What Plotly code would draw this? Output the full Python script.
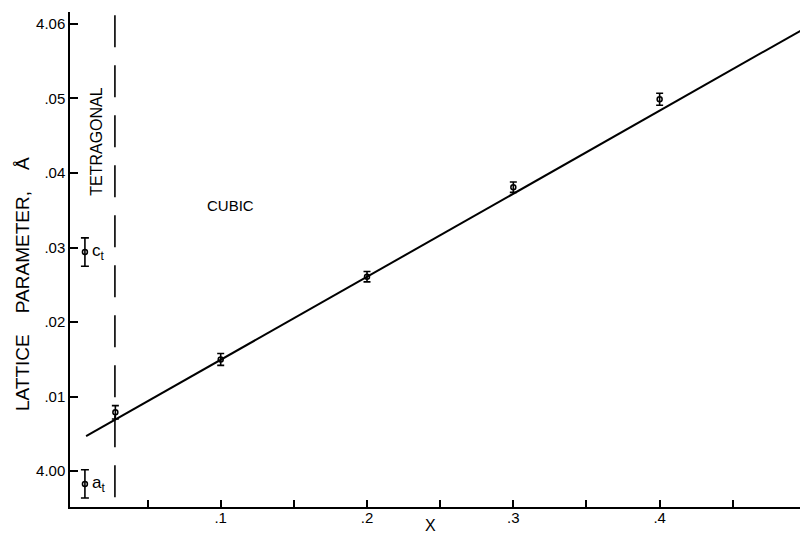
import plotly.graph_objects as go

# ---- data ----
x_cubic = [0.028, 0.1, 0.2, 0.3, 0.4, 0.5]
a_cubic = [4.0079, 4.0150, 4.0261, 4.0381, 4.0499, 4.0590]
err_cubic = [0.0009, 0.0008, 0.0007, 0.0007, 0.0008, 0.0008]

x_tetra = [0.0072, 0.0072]
a_tetra = [4.0294, 3.9983]
err_tetra = [0.0019, 0.0019]
tetra_labels = ["c<sub>t</sub>", "a<sub>t</sub>"]

fit_x = [0.008, 0.5]
fit_y = [4.0047, 4.0595]

boundary_x = 0.0277
boundary_y = [3.9965, 4.0616]

y_tickvals = [4.00, 4.01, 4.02, 4.03, 4.04, 4.05, 4.06]
y_ticktext = ["4.00", ".01", ".02", ".03", ".04", ".05", "4.06"]
x_tickvals = [0.1, 0.2, 0.3, 0.4, 0.5]
x_ticktext = [".1", ".2", ".3", ".4", ".5"]
x_minorvals = [0.05, 0.15, 0.25, 0.35, 0.45]

FONT = "Liberation Sans, Arial, sans-serif"

fig = go.Figure()

# fitted line
fig.add_trace(go.Scatter(x=fit_x, y=fit_y, mode="lines",
                         line=dict(color="black", width=2), showlegend=False))

# phase boundary
fig.add_trace(go.Scatter(x=[boundary_x, boundary_x], y=boundary_y, mode="lines",
                         line=dict(color="black", width=1.6, dash="32px,18px"),
                         showlegend=False))

# cubic data points
fig.add_trace(go.Scatter(x=x_cubic, y=a_cubic, mode="markers", cliponaxis=False,
                         marker=dict(symbol="circle-open", size=5, color="black",
                                     line=dict(width=1.5)),
                         error_y=dict(type="data", array=err_cubic, visible=True,
                                      color="black", thickness=1.6, width=3.5),
                         showlegend=False))

# tetragonal points
fig.add_trace(go.Scatter(x=x_tetra, y=a_tetra, mode="markers",
                         marker=dict(symbol="circle-open", size=5, color="black",
                                     line=dict(width=1.5)),
                         error_y=dict(type="data", array=err_tetra, visible=True,
                                      color="black", thickness=1.6, width=4),
                         showlegend=False))

annotations = []
for xv, yv, lab in zip(x_tetra, a_tetra, tetra_labels):
    annotations.append(dict(x=0.0105, y=yv, xref="x", yref="y", text=lab,
                            showarrow=False, xanchor="left", yanchor="middle",
                            font=dict(family=FONT, size=17, color="black")))

annotations += [
    dict(x=0.0155, y=4.0442, xref="x", yref="y", text="TETRAGONAL", textangle=-90,
         showarrow=False, font=dict(family=FONT, size=16, color="black")),
    dict(x=0.107, y=4.0356, xref="x", yref="y", text="CUBIC",
         showarrow=False, font=dict(family=FONT, size=15, color="black")),
    dict(x=22, y=284, text="LATTICE    PARAMETER,    Å",
         textangle=-90, showarrow=False,
         font=dict(family=FONT, size=19, color="black")),
    dict(x=430, y=525, text="X", showarrow=False,
         font=dict(family=FONT, size=16, color="black")),
]

# the page body adds an 8px offset; place figure so the plot area matches
OFF = 8
W, H = 800, 526
ml, mr, mt, mb = 62, 0, 4, 27
pw, ph = W - ml - mr, H - mt - mb
for a in annotations[-2:]:
    px, py = a["x"] - OFF, a["y"] - OFF
    a["x"] = (px - ml) / pw
    a["y"] = 1 - (py - mt) / ph
    a["xref"] = "paper"
    a["yref"] = "paper"
    a["xanchor"] = "center"
    a["yanchor"] = "middle"

fig.update_layout(
    width=W, height=H,
    margin=dict(l=ml, r=mr, t=mt, b=mb, pad=0),
    paper_bgcolor="white", plot_bgcolor="white",
    font=dict(family=FONT, size=15, color="black"),
    annotations=annotations,
    xaxis=dict(range=[-0.003, 0.5014], tickmode="array", tickvals=x_tickvals,
               ticktext=x_ticktext, ticks="inside", ticklen=7, tickwidth=1.5,
               tickcolor="black", showline=True, linecolor="black", linewidth=1.5,
               showgrid=False, zeroline=False, tickfont=dict(size=15),
               automargin=False, ticklabeloverflow="allow", ticklabelstandoff=-4,
               minor=dict(tickmode="array", tickvals=x_minorvals, ticks="inside",
                          ticklen=7, tickwidth=1.5, tickcolor="black",
                          showgrid=False)),
    yaxis=dict(range=[3.9952, 4.0616], tickmode="array", tickvals=y_tickvals,
               ticktext=y_ticktext, ticks="inside", ticklen=8, tickwidth=1.5,
               tickcolor="black", showline=True, linecolor="black", linewidth=1.5,
               showgrid=False, zeroline=False, tickfont=dict(size=15),
               automargin=False, ticklabeloverflow="allow"),
)

fig.write_html("out.html")
